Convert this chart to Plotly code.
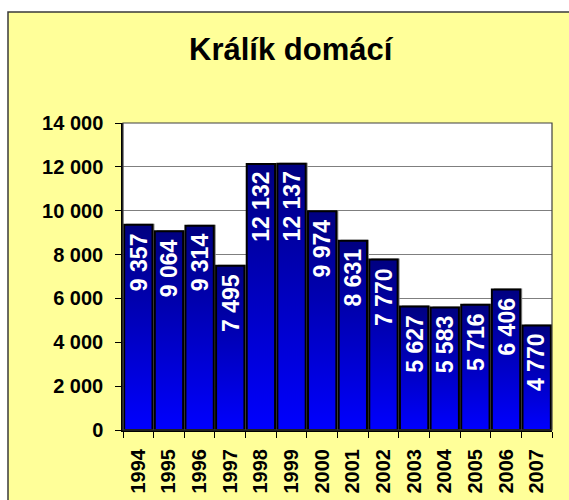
import plotly.graph_objects as go

# Data
years = ["1994", "1995", "1996", "1997", "1998", "1999", "2000",
         "2001", "2002", "2003", "2004", "2005", "2006", "2007"]
counts = [9357, 9064, 9314, 7495, 12132, 12137, 9974,
          8631, 7770, 5627, 5583, 5716, 6406, 4770]
y_ticks = [0, 2000, 4000, 6000, 8000, 10000, 12000, 14000]

FONT = "Liberation Sans, Arial, sans-serif"
W, H = 569, 500
ML, MR, MT, MB = 123, 17, 123, 70
PW, PH = W - ML - MR, H - MT - MB
Y_MAX = 14000
HALF = 0.4625                      # half bar width in category units
SHADOW_DX = 2.0 / (PW / len(years))  # shadow offset, ~2 px to the right
SHADOW_DY = 1.0 * Y_MAX / PH         # ~1 px up


def fmt(v):
    return f"{v:,}".replace(",", " ")


def px_x(p):
    return (p - ML) / PW


def px_y(p):
    return (H - MB - p) / PH


fig = go.Figure()

# drop shadows behind each bar
for i, v in enumerate(counts):
    x0, x1 = i - HALF + SHADOW_DX, i + HALF + SHADOW_DX
    fig.add_trace(go.Scatter(
        x=[x0, x1, x1, x0, x0], y=[0, 0, v + SHADOW_DY, v + SHADOW_DY, 0],
        mode="lines", fill="toself", fillcolor="#8a8a8a",
        line=dict(width=0, color="#8a8a8a"),
        hoverinfo="skip", showlegend=False))

# bars with a vertical navy-to-blue gradient
for i, v in enumerate(counts):
    x0, x1 = i - HALF, i + HALF
    fig.add_trace(go.Scatter(
        x=[x0, x1, x1, x0, x0], y=[0, 0, v, v, 0],
        mode="lines", fill="toself",
        fillgradient=dict(type="vertical",
                          colorscale=[[0, "#0000FF"], [1, "#000080"]]),
        line=dict(width=2, color="#000000"),
        name=years[i], hoverinfo="skip", showlegend=False))

annotations = []
# value labels inside the top of each bar
for i, v in enumerate(counts):
    annotations.append(dict(
        x=i, y=v, xref="x", yref="y", text=fmt(v), showarrow=False,
        textangle=-90, xanchor="center", yanchor="top", yshift=-6,
        font=dict(family=FONT, size=23, color="#FFFFFF", weight="bold")))

# chart title
annotations.append(dict(
    x=px_x(291), y=px_y(50), xref="paper", yref="paper",
    text="Králík domácí", showarrow=False, xanchor="center", yanchor="middle",
    font=dict(family=FONT, size=31, color="#000000", weight="bold")))

shapes = [
    # chart frame
    dict(type="rect", xref="paper", yref="paper",
         x0=px_x(8), x1=px_x(620), y0=px_y(540), y1=px_y(12),
         fillcolor="#FFFF99", line=dict(color="#3a3a3a", width=1.5),
         layer="below"),
    # white plot area
    dict(type="rect", xref="paper", yref="paper", x0=0, x1=1, y0=0, y1=1,
         fillcolor="#FFFFFF", line=dict(width=0), layer="below"),
    # plot-area border
    dict(type="rect", xref="paper", yref="paper", x0=0, x1=1, y0=0, y1=1,
         line=dict(color="#404040", width=1.2), layer="above"),
]

fig.update_layout(
    width=W, height=H,
    margin=dict(l=ML, r=MR, t=MT, b=MB, pad=0, autoexpand=False),
    paper_bgcolor="#FFFFFF", plot_bgcolor="rgba(0,0,0,0)",
    separators=", ",
    annotations=annotations, shapes=shapes,
    showlegend=False,
)

fig.update_xaxes(
    range=[-0.5, len(years) - 0.5], tickmode="array",
    tickvals=list(range(len(years))), ticktext=years,
    tickangle=-90, ticks="", ticklabelstandoff=9, automargin=False,
    tickfont=dict(family=FONT, size=20, color="#000000", weight="bold"),
    showgrid=False, zeroline=False,
    showline=True, linecolor="#000000", linewidth=2,
    minor=dict(tickmode="array",
               tickvals=[k - 0.5 for k in range(len(years) + 1)],
               ticks="outside", ticklen=6, tickcolor="#000000", tickwidth=1.2,
               showgrid=False),
)

fig.update_yaxes(
    range=[0, Y_MAX], tickmode="array", tickvals=y_ticks,
    ticktext=[fmt(t) for t in y_ticks],
    ticks="outside", ticklen=6, tickcolor="#000000", tickwidth=1.2,
    ticklabelstandoff=8, automargin=False,
    tickfont=dict(family=FONT, size=20, color="#000000", weight="bold"),
    showgrid=True, gridcolor="#7f7f7f", gridwidth=1.2,
    zeroline=False, showline=True, linecolor="#000000", linewidth=1.5,
)

fig.write_html("out.html")
